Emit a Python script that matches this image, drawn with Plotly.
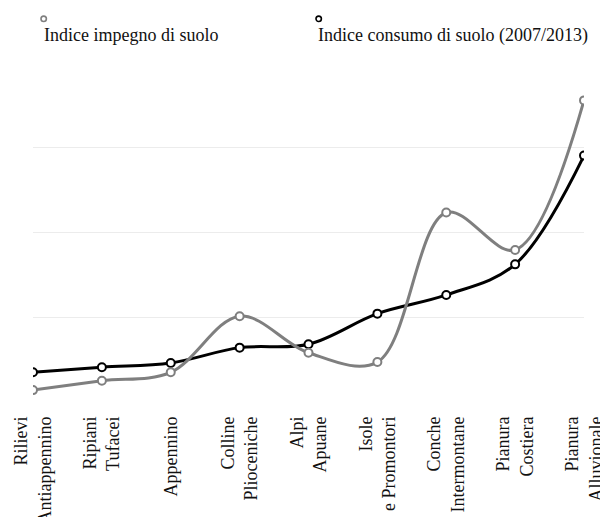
import plotly.graph_objects as go

categories = ["Rilievi<br>Antiappennino", "Ripiani<br>Tufacei", "Appennino", "Colline<br>Plioceniche",
              "Alpi<br>Apuane", "Isole<br>e Promontori", "Conche<br>Intermontane", "Pianura<br>Costiera",
              "Pianura<br>Alluvionale"]
impegno = [0.14, 0.25, 0.35, 1.01, 0.58, 0.47, 2.23, 1.79, 3.55]
consumo = [0.35, 0.41, 0.46, 0.64, 0.68, 1.04, 1.26, 1.62, 2.90]
series_names = ["Indice impegno di suolo", "Indice consumo di suolo (2007/2013)"]
series_colors = ["#7f7f7f", "#000000"]

FONT = "Liberation Serif"

fig = go.Figure()
fig.add_trace(go.Scatter(x=categories, y=consumo, mode="lines+markers", line=dict(color=series_colors[1], width=3, shape="spline", smoothing=1),
                         marker=dict(size=8, color="white", line=dict(color=series_colors[1], width=2)), showlegend=False))
fig.add_trace(go.Scatter(x=categories, y=impegno, mode="lines+markers", line=dict(color=series_colors[0], width=3, shape="spline", smoothing=1),
                         marker=dict(size=8, color="white", line=dict(color=series_colors[0], width=2)), showlegend=False))

# custom legend: marker above text
leg_x_text = [0.017, 0.514]
leg_x_mark = [0.0194, 0.5185]
for name, col, xt, xm in zip(series_names, series_colors, leg_x_text, leg_x_mark):
    fig.add_annotation(text=name, xref="paper", yref="paper", x=xt, y=1.078, xanchor="left", yanchor="middle",
                       showarrow=False, font=dict(family=FONT, size=18, color="#111"))
    fig.add_shape(type="circle", xref="paper", yref="paper", xsizemode="pixel", ysizemode="pixel",
                  xanchor=xm, yanchor=1.127, x0=-2.7, x1=2.7, y0=-2.7, y1=2.7,
                  line=dict(color=col, width=1.6), fillcolor="white")

fig.update_layout(
    width=600, height=517,
    margin=dict(l=33, r=16, t=62, b=115),
    paper_bgcolor="white", plot_bgcolor="white",
    font=dict(family=FONT, size=18, color="#111"),
    xaxis=dict(type="category", range=[0, 8], tickangle=-90, showgrid=False, zeroline=False, showline=False,
               ticks="", automargin=False, ticklabelstandoff=10,
               tickfont=dict(family=FONT, size=18, color="#111")),
    yaxis=dict(range=[0, 4.002], dtick=1, showticklabels=False, showgrid=True, gridcolor="#ececec", gridwidth=1,
               zeroline=False, showline=False, ticks="", automargin=False),
    hovermode=False,
)

fig.write_html("out.html", config={"displayModeBar": False},
               post_script="document.body.style.margin='0';document.body.style.overflow='hidden';")
